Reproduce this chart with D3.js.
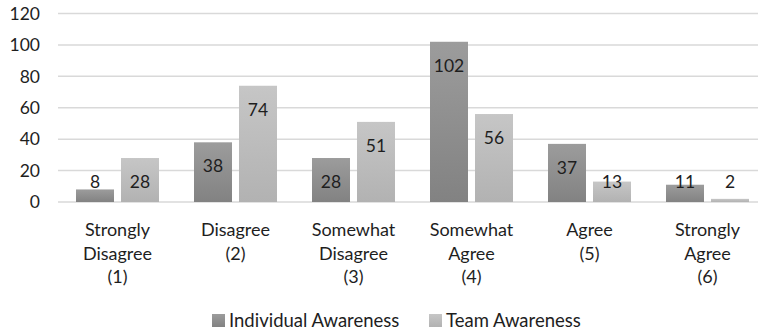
<!DOCTYPE html>
<html>
<head>
<meta charset="utf-8">
<script src="https://cdn.jsdelivr.net/npm/d3@7"></script>
<style>
    body { margin: 0; background: #fff; }
    text { font-family: Lato, "Open Sans", sans-serif; fill: #1e1e1e; }
</style>
</head>
<body>
<div id="graph"></div>
<script>
"use strict";
(function() {
    const categories = [
        ["Strongly", "Disagree", "(1)"],
        ["Disagree", "(2)"],
        ["Somewhat", "Disagree", "(3)"],
        ["Somewhat", "Agree", "(4)"],
        ["Agree", "(5)"],
        ["Strongly", "Agree", "(6)"]
    ];
    const seriesNames = ["Individual Awareness", "Team Awareness"];
    const individual = [8, 38, 28, 102, 37, 11];
    const team = [28, 74, 51, 56, 13, 2];
    const yTicks = [0, 20, 40, 60, 80, 100, 120];

    const width = 758, height = 332;
    const svg = d3.select("#graph").append("svg")
        .attr("width", width).attr("height", height);

    const defs = svg.append("defs");
    const grads = [["gDark", "#9c9c9c", "#828282"], ["gLight", "#c6c6c6", "#b2b2b2"]];
    grads.forEach(g => {
        const lg = defs.append("linearGradient").attr("id", g[0])
            .attr("x1", 0).attr("y1", 0).attr("x2", 0).attr("y2", 1);
        lg.append("stop").attr("offset", "0%").attr("stop-color", g[1]);
        lg.append("stop").attr("offset", "100%").attr("stop-color", g[2]);
    });
    const fills = ["url(#gDark)", "url(#gLight)"];

    const idx = categories.map((c, i) => i);
    const xScale = d3.scaleBand().domain(idx).range([58.5, 766.5]);
    const xSub = d3.scaleBand().domain([0, 1]).range([17.5, 100.5]).paddingInner(0.1556);
    const yScale = d3.scaleLinear().domain([0, 120]).range([202, 13.5]);

    // gridlines
    svg.append("g").selectAll("line")
        .data(yTicks).enter().append("line")
            .attr("x1", 58).attr("x2", 758)
            .attr("y1", d => yScale(d)).attr("y2", d => yScale(d))
            .attr("stroke", "#d9d9d9").attr("stroke-width", 1.5);

    // y tick labels
    svg.append("g").selectAll("text")
        .data(yTicks).enter().append("text")
            .attr("x", 40).attr("y", d => yScale(d))
            .attr("dy", "0.36em")
            .attr("text-anchor", "end")
            .style("font-size", "17.5px")
            .text(d => d);

    const data = [];
    idx.forEach(i => {
        data.push({cat: i, s: 0, v: individual[i]});
        data.push({cat: i, s: 1, v: team[i]});
    });

    svg.append("g").selectAll("rect")
        .data(data).enter().append("rect")
            .attr("x", d => xScale(d.cat) + xSub(d.s))
            .attr("width", xSub.bandwidth())
            .attr("y", d => yScale(d.v))
            .attr("height", d => yScale(0) - yScale(d.v))
            .attr("fill", d => fills[d.s]);

    svg.append("g").selectAll("text")
        .data(data).enter().append("text")
            .attr("x", d => xScale(d.cat) + xSub(d.s) + xSub.bandwidth() / 2)
            .attr("y", d => Math.min(yScale(d.v) + 30, 187.5))
            .attr("text-anchor", "middle")
            .style("font-size", "17.5px")
            .text(d => d.v);

    // category labels
    const catG = svg.append("g").selectAll("text")
        .data(categories).enter().append("text")
            .attr("x", (d, i) => xScale(i) + xScale.bandwidth() / 2)
            .attr("y", 236)
            .attr("text-anchor", "middle")
            .style("font-size", "18px");
    catG.selectAll("tspan")
        .data(d => d).enter().append("tspan")
            .attr("x", function() { return d3.select(this.parentNode).attr("x"); })
            .attr("dy", (d, j) => j === 0 ? 0 : 23.5)
            .text(d => d);

    // legend
    const legendX = [212, 429];
    const leg = svg.append("g").selectAll("g")
        .data(seriesNames).enter().append("g")
            .attr("transform", (d, i) => "translate(" + legendX[i] + ",314)");
    leg.append("rect")
        .attr("width", 13).attr("height", 13)
        .attr("fill", (d, i) => fills[i]);
    leg.append("text")
        .attr("x", 17).attr("y", 13)
        .style("font-size", "18.5px")
        .text(d => d);
})();
</script>
</body>
</html>
